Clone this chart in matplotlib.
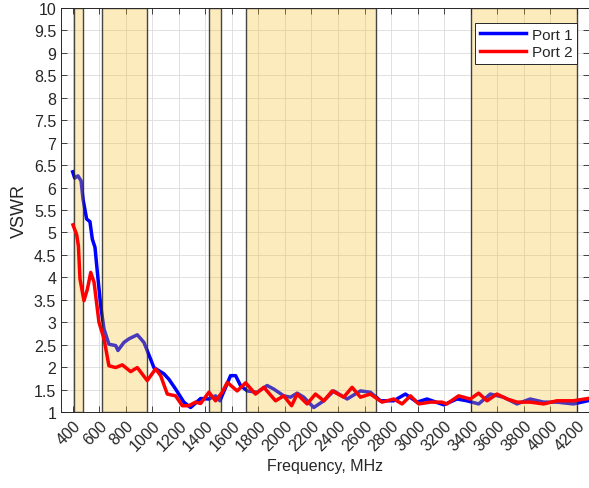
import matplotlib
matplotlib.use("Agg")
import matplotlib.pyplot as plt
import numpy as np

plt.rcParams['font.family'] = ['Liberation Sans', 'DejaVu Sans']

# Port 1 (blue)
f1 = [400, 415, 440, 463, 478, 505, 530, 548, 568, 586, 611, 636, 673, 724, 741, 786, 824, 887,
      937, 987, 1012, 1088, 1125, 1176, 1238, 1289, 1364, 1427, 1477, 1510, 1590, 1628, 1665,
      1716, 1791, 1866, 1916, 1991, 2042, 2092, 2142, 2217, 2293, 2368, 2469, 2569, 2644, 2720,
      2820, 2908, 2996, 3071, 3197, 3297, 3372, 3460, 3548, 3648, 3749, 3849, 3950, 4050,
      4175, 4282]
v1 = [6.35, 6.21, 6.26, 6.15, 5.74, 5.30, 5.24, 4.85, 4.67, 4.11, 3.37, 2.85, 2.51, 2.48, 2.37,
      2.55, 2.63, 2.72, 2.55, 2.18, 1.99, 1.85, 1.73, 1.51, 1.22, 1.10, 1.30, 1.29, 1.36, 1.25,
      1.81, 1.81, 1.59, 1.47, 1.44, 1.59, 1.51, 1.36, 1.33, 1.42, 1.33, 1.10, 1.25, 1.47, 1.29,
      1.47, 1.44, 1.25, 1.25, 1.40, 1.22, 1.29, 1.16, 1.29, 1.25, 1.18, 1.40, 1.33, 1.18, 1.29,
      1.22, 1.22, 1.18, 1.25]

# Port 2 (red)
f2 = [402, 430, 443, 455, 485, 511, 536, 561, 598, 636, 673, 724, 774, 837, 887, 962, 1025,
      1063, 1113, 1176, 1226, 1276, 1326, 1364, 1427, 1477, 1527, 1565, 1640, 1703, 1778, 1841,
      1929, 1991, 2050, 2092, 2167, 2230, 2293, 2356, 2443, 2506, 2569, 2644, 2732, 2820, 2883,
      2946, 3008, 3096, 3184, 3220, 3309, 3397, 3460, 3523, 3598, 3674, 3749, 3849, 3950, 4050,
      4175, 4282]
v2 = [5.17, 4.95, 4.70, 3.96, 3.48, 3.74, 4.11, 3.89, 3.00, 2.63, 2.03, 1.99, 2.05, 1.90, 1.99,
      1.70, 1.96, 1.81, 1.40, 1.36, 1.14, 1.14, 1.22, 1.19, 1.44, 1.25, 1.44, 1.66, 1.47, 1.65,
      1.40, 1.55, 1.25, 1.36, 1.14, 1.40, 1.18, 1.40, 1.25, 1.47, 1.33, 1.55, 1.33, 1.40, 1.22,
      1.29, 1.18, 1.36, 1.18, 1.22, 1.22, 1.18, 1.36, 1.29, 1.42, 1.25, 1.40, 1.29, 1.22, 1.22,
      1.18, 1.25, 1.25, 1.30]

# Highlighted bands (MHz)
band_lo = [410, 620, 1427, 1710, 3400]
band_hi = [475, 962, 1518, 2690, 4200]

xticks = list(range(400, 4201, 200))
yticks = [1 + 0.5 * i for i in range(19)]
ytick_labels = [("%g" % t) for t in yticks]

txt = '#262626'
fig = plt.figure(figsize=(5.89, 4.89), dpi=100)
ax = fig.add_axes([0.1036, 0.1554, 0.8964, 0.8262])

ax.plot(f1, v1, color=(0, 0, 1), lw=2.5, label='Port 1', zorder=3)
ax.plot(f2, v2, color=(1, 0, 0), lw=2.5, label='Port 2', zorder=6)

for lo, hi in zip(band_lo, band_hi):
    ax.axvspan(lo, hi, facecolor=(0.96, 0.75, 0.15, 0.30),
               edgecolor=(0.15, 0.15, 0.15, 0.85), lw=1.0, zorder=5)

ax.set_xlim(312, 4292)
ax.set_ylim(1, 10)
ax.set_xticks(xticks)
ax.set_xticklabels([str(t) for t in xticks], rotation=45, ha='right',
                   rotation_mode='anchor', fontsize=11.5, color=txt)
ax.set_yticks(yticks)
ax.set_yticklabels(ytick_labels, fontsize=11.5, color=txt)
ax.tick_params(direction='in', length=4, width=0.6, colors=txt,
               top=True, right=True, labelcolor=txt)
ax.tick_params(axis='x', pad=4)
ax.grid(True, color='#dcdcdc', lw=0.6, zorder=0)
ax.set_axisbelow(True)
for s in ax.spines.values():
    s.set_color(txt)
    s.set_linewidth(0.7)

ax.set_xlabel('Frequency, MHz', fontsize=11.5, color=txt, labelpad=3)
ax.set_ylabel('VSWR', fontsize=13, color=txt, labelpad=4)

leg = ax.legend(loc='upper right', bbox_to_anchor=(0.977, 0.963), borderaxespad=0,
                fontsize=11, fancybox=False, framealpha=1, edgecolor=txt, borderpad=0.3,
                handlelength=3.0, handletextpad=0.4, labelspacing=0.25)
leg.get_frame().set_linewidth(0.7)
leg.set_zorder(10)
for t in leg.get_texts():
    t.set_color(txt)

fig.savefig('out.png', dpi=100)
